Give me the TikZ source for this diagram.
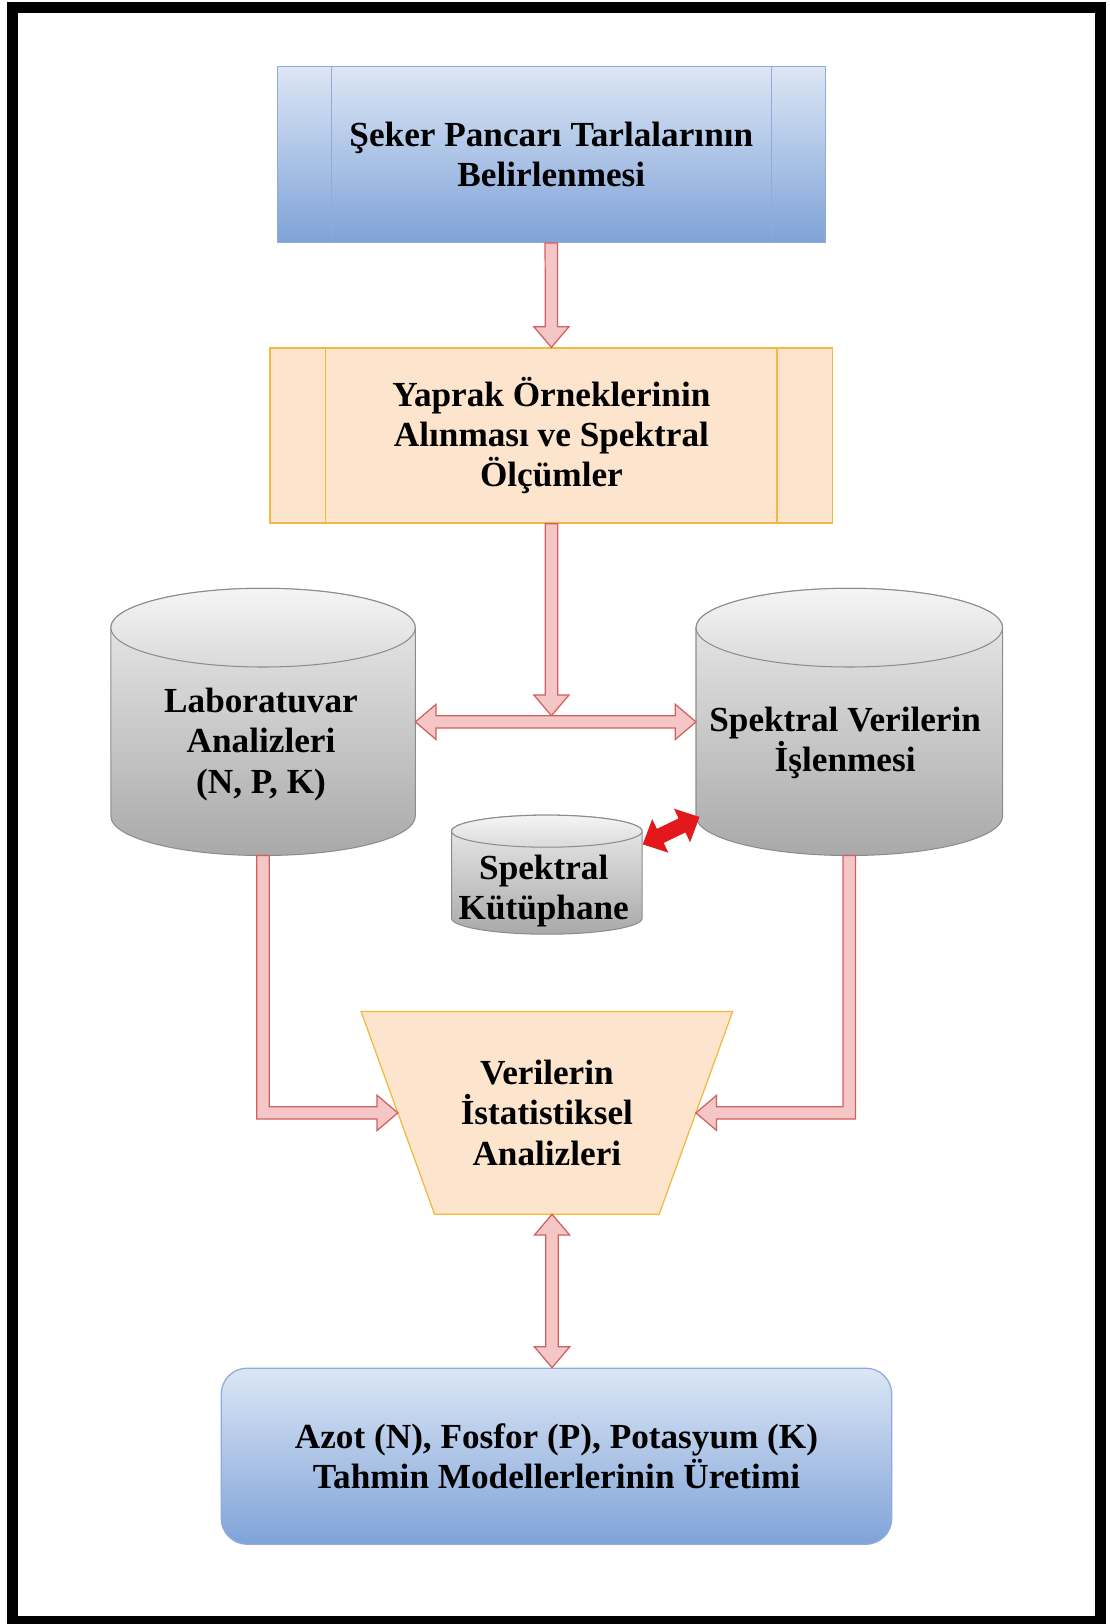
\documentclass[tikz,border=0pt]{standalone}
\usepackage{fontspec}
\setmainfont{Liberation Serif}
\usetikzlibrary{calc,backgrounds}

\definecolor{bluetop}{HTML}{DCE6F5}
\definecolor{bluebot}{HTML}{7FA3D8}
\definecolor{blueline}{HTML}{8FAADC}
\definecolor{peach}{HTML}{FDE4CC}
\definecolor{peachline}{HTML}{F2B842}
\definecolor{pinkfill}{HTML}{F5C6C6}
\definecolor{pinkline}{HTML}{D0605E}
\definecolor{hotred}{HTML}{E3181C}
\definecolor{cyltop}{HTML}{EDEDED}
\definecolor{cylbot}{HTML}{A9A9A9}
\definecolor{captop}{HTML}{F5F5F5}
\definecolor{capbot}{HTML}{DADADA}
\definecolor{cylline}{HTML}{8C8C8C}

\tikzset{txt/.style={font=\fontsize{17}{19.5}\selectfont\bfseries, align=center, inner sep=0pt},
         bluebox/.style={txt, draw=blueline, line width=0.6pt, top color=bluetop, bottom color=bluebot},
         peachbox/.style={txt, draw=peachline, line width=0.6pt, fill=peach},
         blk/.style={fill=pinkfill, draw=pinkline, line width=0.6pt, line join=miter},
         redblk/.style={fill=hotred, draw=hotred, line width=0.3pt}}

\def\aw{3pt}\def\ah{8.5pt}\def\al{10pt}
\newcommand\onearrow[3][blk]{%
  \coordinate (tb) at ($(#3)!\al!(#2)$);
  \filldraw[#1] ($(#2)!\aw!90:(#3)$) -- ($(tb)!\aw!90:(#3)$) -- ($(tb)!\ah!90:(#3)$) -- (#3)
    -- ($(tb)!\ah!-90:(#3)$) -- ($(tb)!\aw!-90:(#3)$) -- ($(#2)!\aw!-90:(#3)$) -- cycle;}
\newcommand\twoarrow[3][blk]{%
  \coordinate (ta) at ($(#2)!\al!(#3)$);
  \coordinate (tb) at ($(#3)!\al!(#2)$);
  \filldraw[#1] (#2) -- ($(ta)!\ah!90:(#3)$) -- ($(ta)!\aw!90:(#3)$) -- ($(tb)!\aw!90:(#3)$) -- ($(tb)!\ah!90:(#3)$) -- (#3)
    -- ($(tb)!\ah!-90:(#3)$) -- ($(tb)!\aw!-90:(#3)$) -- ($(ta)!\aw!-90:(#3)$) -- ($(ta)!\ah!-90:(#3)$) -- cycle;}
\newcommand\elbowarrow[4][blk]{%
  \filldraw[#1] let \p1=(#2), \p2=(#3) in
    ({\x1-(#4)*\aw},\y1) -- ({\x1-(#4)*\aw},\y2-\aw) -- ({\x2-(#4)*\al},\y2-\aw) -- ({\x2-(#4)*\al},\y2-\ah) -- (\x2,\y2)
    -- ({\x2-(#4)*\al},\y2+\ah) -- ({\x2-(#4)*\al},\y2+\aw) -- ({\x1+(#4)*\aw},\y2+\aw) -- ({\x1+(#4)*\aw},\y1) -- cycle;}
\newcommand\cylinder[6]{%
  \shadedraw[top color=cyltop, bottom color=cylbot, draw=cylline, line width=0.5pt]
    (#2-#5,#3) -- (#2-#5,#4) arc[start angle=180, end angle=360, x radius=#5, y radius=#6]
    -- (#2+#5,#3) arc[start angle=0, end angle=180, x radius=#5, y radius=#6] -- cycle;
  \shadedraw[top color=captop, bottom color=capbot, draw=cylline, line width=0.5pt] (#2,#3) ellipse[x radius=#5, y radius=#6];
  \coordinate (#1-s) at (#2,#4-#6);
  \coordinate (#1-e) at ($(#2,#3)!0.5!(#2,#4)+(#5,0)$);
  \coordinate (#1-w) at ($(#2,#3)!0.5!(#2,#4)-(#5,0)$);}

\begin{document}
\begin{tikzpicture}[x=0.5pt,y=0.5pt]
  \useasboundingbox (0,0) rectangle (1071,-1568);
  \draw[line width=5.3pt] (12.1,-7.2) rectangle (1062.7,-1565.9);

  \node[bluebox, minimum width=264.7pt, minimum height=84.8pt] (top) at (532.3,-149.2) {Şeker Pancarı Tarlalarının\\Belirlenmesi};
  \draw[blueline, line width=0.6pt] ([xshift=26.7pt]top.north west) -- ([xshift=26.7pt]top.south west);
  \draw[blueline, line width=0.6pt] ([xshift=-26.3pt]top.north east) -- ([xshift=-26.3pt]top.south east);

  \node[peachbox, minimum width=271.7pt, minimum height=84.5pt] (samp) at (532.4,-420.5) {Yaprak Örneklerinin\\Alınması ve Spektral\\Ölçümler};
  \draw[peachline, line width=0.6pt] ([xshift=27.2pt]samp.north west) -- ([xshift=27.2pt]samp.south west);
  \draw[peachline, line width=0.6pt] ([xshift=-27.2pt]samp.north east) -- ([xshift=-27.2pt]samp.south east);

  \cylinder{lab}{254}{-606}{-788}{147}{38}
  \cylinder{spc}{820}{-606}{-788}{148}{38}
  \cylinder{lib}{528}{-802.5}{-886.5}{92}{15.5}
  \node[txt] (lab) at (252,-718.5) {Laboratuvar\\Analizleri\\(N, P, K)};
  \node[txt] (spc) at (816,-717.5) {Spektral Verilerin\\İşlenmesi};
  \node[txt] (lib) at (525,-860.5) {Spektral\\Kütüphane};

  \node[txt, minimum width=179pt, minimum height=97.5pt] (stat) at (528,-1074.5) {Verilerin\\İstatistiksel\\Analizleri};
  \begin{scope}[on background layer]
    \filldraw[fill=peach, draw=peachline, line width=0.6pt] (stat.north west) -- (stat.north east)
      -- ([xshift=-35.5pt]stat.south east) -- ([xshift=35.5pt]stat.south west) -- cycle;
  \end{scope}
  \coordinate (stat-l) at ([xshift=17.75pt]stat.west);
  \coordinate (stat-r) at ([xshift=-17.75pt]stat.east);
  \coordinate (stat-b) at ([xshift=2.5pt]stat.south);

  \node[bluebox, rounded corners=12.5pt, minimum width=323.7pt, minimum height=85pt] (model) at (537.3,-1406) {Azot (N), Fosfor (P), Potasyum (K)\\Tahmin Modellerlerinin Üretimi};

  \onearrow{top.south}{samp.north}
  \coordinate (join) at ($(samp.south |- lab-e)+(0,6)$);
  \onearrow{samp.south}{join}
  \twoarrow{lab-e}{spc-w}
  \elbowarrow{lab-s}{stat-l}{1}
  \elbowarrow{spc-s}{stat-r}{-1}
  \coordinate (model-t) at (stat-b |- model.north);
  \twoarrow{stat-b}{model-t}

  \begin{scope}
    \def\aw{3.6pt}\def\ah{8.6pt}\def\al{9pt}
    \coordinate (lib-a) at (621,-815);
    \coordinate (spc-a) at (675,-789);
    \twoarrow[redblk]{lib-a}{spc-a}
  \end{scope}
\end{tikzpicture}
\end{document}
